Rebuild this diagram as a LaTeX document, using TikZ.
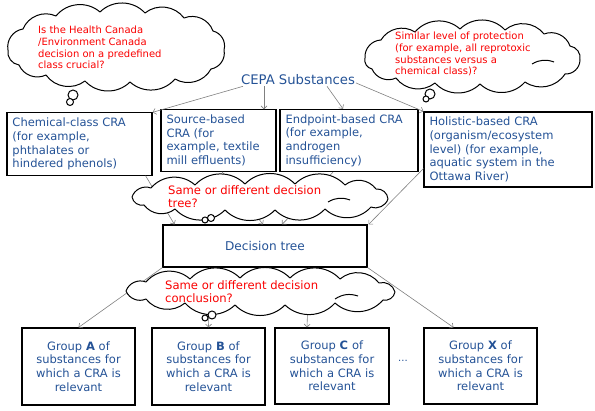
\documentclass[tikz,border=0pt]{standalone}
\usepackage{fontspec}
\setmainfont{DejaVu Sans}
\usetikzlibrary{arrows.meta}
\definecolor{cblue}{RGB}{36,82,150}
\definecolor{cred}{RGB}{250,0,0}
\definecolor{cline}{RGB}{128,128,128}
\tikzset{
  box/.style={draw=black, line width=1.1pt, rectangle, inner sep=5pt, text=cblue,
    font=\fontsize{11.5}{13.7}\selectfont},
  conn/.style={draw=cline, line width=0.6pt, -{Straight Barb[length=3pt,width=6pt]}},
  cloudline/.style={draw=black, fill=white, line width=1pt, line join=round},
  puff/.style={bend left=46},
  inner arc/.style={line width=1pt, bend left=25},
  bubble/.style={circle, draw=black, fill=white, line width=1pt, inner sep=0pt},
  qtext/.style={text=cred, align=left, anchor=north west, inner sep=0pt},
}
\begin{document}
\begin{tikzpicture}[x=1pt,y=-1pt]
\useasboundingbox (0,0) rectangle (595,411);
% title
\node[text=cblue, font=\fontsize{13.2}{15}\selectfont, inner sep=1pt] (cepa) at (298,80) {CEPA Substances};
% CRA boxes
\node[box, minimum width=145pt, minimum height=62pt, text width=134pt, align=left] (b1) at (79.5,144)
  {Chemical-class CRA\\(for example,\\phthalates or\\hindered phenols)};
\node[box, minimum width=115pt, minimum height=55pt, text width=104pt, align=left] (b2) at (218.5,140.5)
  {Source-based\\CRA (for\\example, textile\\mill effluents)};
\node[box, minimum width=138pt, minimum height=55pt, text width=127pt, align=left] (b3) at (349,140.5)
  {Endpoint-based CRA\\(for example,\\androgen\\insufficiency)};
\node[box, minimum width=168pt, minimum height=75pt, text width=157pt, align=left] (b4) at (508,149.5)
  {Holistic-based CRA\\(organism/ecosystem\\level) (for example,\\aquatic system in the\\Ottawa River)};
% decision tree
\node[box, minimum width=204pt, minimum height=42pt, font=\fontsize{12.1}{14}\selectfont] (dt) at (265,246) {Decision tree};
% groups
\node[box, minimum width=113pt, minimum height=77pt, text width=102pt, align=center] (ga) at (78.5,366.5)
  {Group \textbf{A} of\\substances for\\which a CRA is\\relevant};
\node[box, minimum width=113pt, minimum height=77pt, text width=102pt, align=center] (gb) at (208.5,366.5)
  {Group \textbf{B} of\\substances for\\which a CRA is\\relevant};
\node[box, minimum width=114pt, minimum height=76pt, text width=103pt, align=center] (gc) at (332,366)
  {Group \textbf{C} of\\substances for\\which a CRA is\\relevant};
\node[box, minimum width=113pt, minimum height=76pt, text width=102pt, align=center] (gx) at (480.5,366)
  {Group \textbf{X} of\\substances for\\which a CRA is\\relevant};
\node[text=cblue, font=\fontsize{10}{12}\selectfont] (dots) at (403,361) {...};
% connectors
\draw[conn] ([xshift=-55pt]cepa.south) -- (b1.north east);
\draw[conn] ([xshift=-34pt]cepa.south) -- ([xshift=45.5pt]b2.north);
\draw[conn] ([xshift=29pt]cepa.south) -- ([xshift=-6pt]b3.north);
\draw[conn] ([yshift=-3pt]cepa.east) -- (b4.north west);
\draw[conn] ([xshift=-7pt]b1.south east) -- ([xshift=12pt]dt.north west);
\draw[conn] ([xshift=3.5pt]b2.south) -- ([xshift=-2pt]dt.north);
\draw[conn] ([xshift=-16pt]b3.south) -- ([xshift=17pt]dt.north);
\draw[conn] ([yshift=19pt]b4.south west) -- ([xshift=1pt]dt.north east);
\draw[conn] (dt.south west) -- (ga.north);
\draw[conn] ([xshift=47pt]dt.south west) -- (gb.north);
\draw[conn] ([xshift=44pt]dt.south) -- ([xshift=-25pt]gc.north);
\draw[conn] (dt.south east) -- ([xshift=-27pt]gx.north);
% cloud 1
\draw[cloudline] (8,50) to[puff] (23,29) to[puff] (56,16) to[puff] (100,12) to[puff] (145,13)
  to[puff] (184,18) to[puff] (213,31) to[puff] (224,50) to[puff] (211,69) to[puff] (175,79)
  to[puff] (130,82) to[puff] (85,81) to[puff] (46,75) to[puff] (19,65) to[puff] (8,50) -- cycle;
\node[bubble, minimum size=10pt] (c1a) at (73,95) {};
\node[bubble, minimum size=7pt] (c1b) at (70,102) {};
\node[qtext, font=\fontsize{10}{11.7}\selectfont] (t1) at (38,26)
  {Is the Health Canada\\/Environment Canada\\decision on a predefined\\class crucial?};
% cloud 2
\draw[cloudline] (365,58) to[puff] (381,40) to[puff] (415,32) to[puff] (460,29) to[puff] (505,30)
  to[puff] (544,34) to[puff] (570,46) to[puff] (580,60) to[puff] (565,74) to[puff] (525,82)
  to[puff] (480,84) to[puff] (435,83) to[puff] (396,78) to[puff] (372,69) to[puff] (365,58) -- cycle;
\draw[inner arc] (532,64) to (554,62);
\node[bubble, minimum size=10pt] (c2a) at (430,94) {};
\node[bubble, minimum size=6pt] (c2b) at (426,99) {};
\node[qtext, font=\fontsize{10}{11.7}\selectfont] (t2) at (395,32)
  {Similar level of protection\\(for example, all reprotoxic\\substances versus a\\chemical class)?};
% cloud 3
\draw[cloudline] (132,197) to[puff] (151,188) to[puff] (195,185) to[puff] (245,184) to[puff] (295,184)
  to[puff] (345,185) to[puff] (376,189) to[puff] (388,199) to[puff] (371,207) to[puff] (325,209)
  to[puff] (275,210) to[puff] (225,210) to[puff] (175,209) to[puff] (144,205) to[puff] (132,197) -- cycle;
\draw[inner arc] (328,202) to (350,200);
\node[bubble, minimum size=7pt] (c3a) at (211,218) {};
\node[bubble, minimum size=6pt] (c3b) at (205,220) {};
\node[qtext, font=\fontsize{11.6}{13.3}\selectfont] (t3) at (168,185)
  {Same or different decision\\tree?};
% cloud 4
\draw[cloudline] (126,291) to[puff] (146,282) to[puff] (190,279) to[puff] (240,278) to[puff] (290,278)
  to[puff] (340,279) to[puff] (379,283) to[puff] (395,292) to[puff] (383,300) to[puff] (335,303)
  to[puff] (285,305) to[puff] (235,305) to[puff] (185,303) to[puff] (146,299) to[puff] (126,291) -- cycle;
\draw[inner arc] (335,299) to (358,296);
\node[bubble, minimum size=8pt] (c4a) at (212,315) {};
\node[bubble, minimum size=6pt] (c4b) at (205,318) {};
\node[qtext, font=\fontsize{11.6}{13.3}\selectfont] (t4) at (165,280)
  {Same or different decision\\conclusion?};
\end{tikzpicture}
\end{document}
